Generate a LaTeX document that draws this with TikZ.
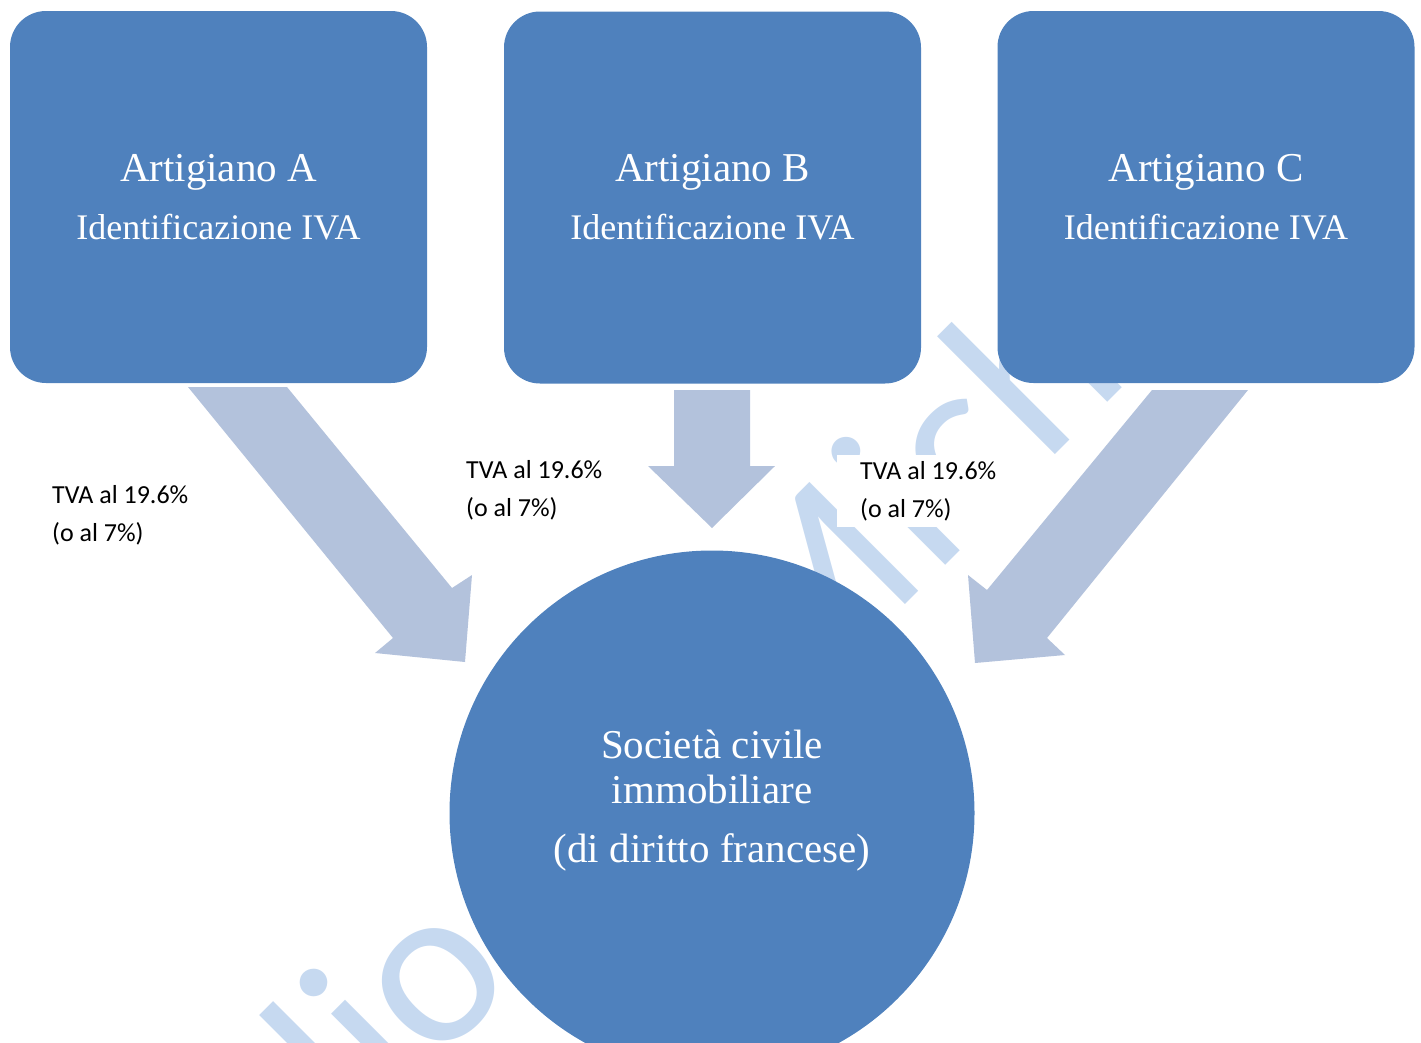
\documentclass[tikz,border=0pt]{standalone}
\usepackage{fontspec}
\setmainfont{Liberation Serif}
\newfontfamily\lblfont{Carlito}
\definecolor{boxblue}{RGB}{79,129,189}
\definecolor{arrowblue}{RGB}{179,194,220}
\definecolor{wmblue}{RGB}{198,217,240}
\begin{document}
\begin{tikzpicture}[x=1pt,y=-1pt,
  box/.style={rounded corners=36pt, fill=boxblue, minimum width=417pt,
    minimum height=372pt, align=center, text=white, inner sep=0pt,
    font=\fontsize{36}{58}\selectfont},
  soc/.style={circle, fill=boxblue, minimum size=525pt, inner sep=0pt},
  soctext/.style={align=center, text=white, inner sep=0pt,
    font=\fontsize{41}{45}\selectfont},
  lbl/.style={align=left, inner sep=0pt, text=black,
    font=\lblfont\fontsize{26}{38}\selectfont},
  lblbox/.style={lbl, fill=white, inner xsep=23pt, inner ysep=6pt},
  barrow/.style={fill=arrowblue},
  wm/.style={text=wmblue, inner sep=0pt, rotate=45, anchor=base east}
]
\useasboundingbox (0,0) rectangle (1421,1042);
\clip (0,0) rectangle (1421,1042);

% watermark fragments
\node[wm, font=\lblfont\fontsize{230}{230}\selectfont] (wmA) at (521,980) {dio};
\node[wm, font=\lblfont\fontsize{240}{240}\selectfont] (wmB) at (1133,377) {Mich};

% labels (base anchor = last line)
\node[lbl, anchor=base west] (lA) at (52,541) {TVA al 19.6\%\\(o al 7\%)};
\node[lbl, anchor=base west] (lB) at (466,516) {TVA al 19.6\%\\(o al 7\%)};
\node[lblbox, anchor=base west] (lC) at (837,517) {TVA al 19.6\%\hspace*{10pt}\\(o al 7\%)};

% block arrows
\fill[barrow] (188,387) -- (287,387) -- (452,588) -- (472,575) -- (465,662)
  -- (375,653) -- (393,638) -- cycle;
\fill[barrow] (674,390) -- (750,390) -- (750,466) -- (775,466) -- (712,528)
  -- (648,466) -- (674,466) -- cycle;
\fill[barrow] (1248,390) -- (1152,390) -- (987,590) -- (968,575) -- (975,663)
  -- (1065,655) -- (1047,638) -- cycle;

% boxes
\node[box] (A) at (218.5,197) {{\fontsize{41}{58}\selectfont Artigiano A}\\Identificazione IVA};
\node[box] (B) at (712.5,197.5) {{\fontsize{41}{58}\selectfont Artigiano B}\\Identificazione IVA};
\node[box] (C) at (1206,197) {{\fontsize{41}{58}\selectfont Artigiano C}\\Identificazione IVA};

% circle
\node[soc] (S) at (712,813) {};
\node[soctext] (St) at (712,800.5) {Società civile\\immobiliare\\[14pt](di diritto francese)};
\end{tikzpicture}
\end{document}
